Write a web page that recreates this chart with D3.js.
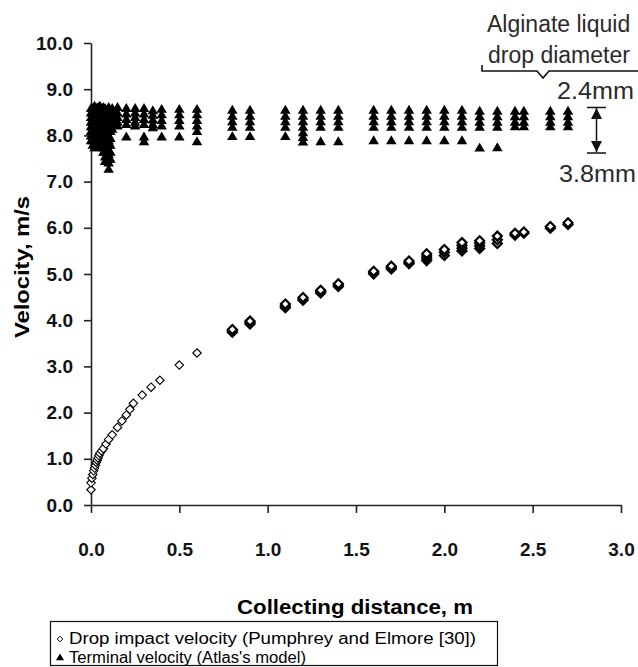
<!DOCTYPE html>
<html>
<head>
<meta charset="utf-8">
<script src="https://cdn.jsdelivr.net/npm/d3@7"></script>
<style>
  body { margin: 0; background: #fff; }
  svg { display: block; }
  .tick text { font-family: "Liberation Sans", Arial, sans-serif; font-weight: bold; font-size: 19px; fill: #111; }
</style>
</head>
<body>
<svg id="chart" width="638" height="667"></svg>
<script>
// drop impact velocity (Pumphrey and Elmore) - distance, m / velocity, m/s
var impactDist = [0, 0, 0.005, 0.01, 0.015, 0.02, 0.025, 0.03, 0.035, 0.04, 0.045, 0.05, 0.06, 0.07, 0.085,
                  0.1, 0.12, 0.15, 0.175, 0.2, 0.22, 0.24, 0.29, 0.34, 0.39, 0.5, 0.6,
                  0.8, 0.8, 0.8, 0.9, 0.9, 0.9, 1.1, 1.1, 1.1, 1.2, 1.2, 1.2, 1.3, 1.3, 1.3, 1.4, 1.4, 1.4,
                  1.6, 1.6, 1.6, 1.7, 1.7, 1.7, 1.8, 1.8, 1.8, 1.9, 1.9, 1.9, 1.9, 2.0, 2.0, 2.0,
                  2.1, 2.1, 2.1, 2.1, 2.2, 2.2, 2.2, 2.2, 2.3, 2.3, 2.3, 2.4, 2.4, 2.45, 2.45, 2.6, 2.6, 2.7, 2.7];
var impactVel  = [0.33, 0.48, 0.58, 0.66, 0.74, 0.8, 0.86, 0.92, 0.97, 1.02, 1.07, 1.12, 1.17, 1.22, 1.32,
                  1.42, 1.52, 1.68, 1.82, 1.95, 2.07, 2.2, 2.38, 2.55, 2.7, 3.03, 3.29,
                  3.74, 3.77, 3.8, 3.92, 3.95, 3.98, 4.27, 4.31, 4.35, 4.43, 4.46, 4.49, 4.59, 4.62, 4.65, 4.73, 4.76, 4.79,
                  5.0, 5.03, 5.06, 5.11, 5.14, 5.17, 5.22, 5.25, 5.28, 5.29, 5.34, 5.39, 5.44, 5.4, 5.47, 5.53,
                  5.5, 5.56, 5.62, 5.68, 5.55, 5.61, 5.67, 5.72, 5.66, 5.74, 5.82, 5.84, 5.88, 5.88, 5.91, 5.99, 6.03, 6.07, 6.11];

// terminal velocity (Atlas's model) - one column of values per distance
var termDist = [0, 0.01, 0.02, 0.03, 0.04, 0.05, 0.06, 0.07, 0.08, 0.1, 0.11, 0.12, 0.15, 0.2, 0.25, 0.3, 0.35, 0.4, 0.5, 0.6,
                0.8, 0.9, 1.1, 1.2, 1.3, 1.4, 1.6, 1.7, 1.8, 1.9, 2.0, 2.1, 2.2, 2.3, 2.4, 2.45, 2.6, 2.7];
var termVel = [
  [8.6, 8.5, 8.4, 8.3, 8.2, 8.1, 8.0, 7.9],
  [8.6, 8.5, 8.4, 8.3, 8.2, 8.1, 8.0, 7.9, 7.8],
  [8.65, 8.55, 8.45, 8.35, 8.25, 8.15, 8.05, 7.95, 7.85, 7.75],
  [8.6, 8.5, 8.4, 8.3, 8.2, 8.1, 8.0, 7.9, 7.8, 7.75],
  [8.62, 8.5, 8.4, 8.3, 8.2, 8.1, 8.0, 7.9],
  [8.65, 8.52, 8.42, 8.3, 8.2, 8.1, 8.0, 7.9],
  [8.6, 8.5, 8.4, 8.3, 8.2, 8.1, 8.0, 7.9, 7.8],
  [8.62, 8.5, 8.38, 8.28, 8.18, 8.05, 7.95, 7.85, 7.75, 7.65],
  [8.6, 8.48, 8.36, 8.25, 8.15, 8.05, 7.95, 7.85, 7.75, 7.65, 7.55, 7.45],
  [8.62, 8.5, 8.4, 8.3, 8.2, 8.1, 8.0, 7.9, 7.8, 7.7, 7.6, 7.5, 7.42, 7.28],
  [8.55, 8.45, 8.35, 8.25, 8.1, 7.95, 7.8, 7.65, 7.5],
  [8.6, 8.48, 8.36, 8.25, 8.15],
  [8.62, 8.5, 8.4, 8.3, 8.22],
  [8.6, 8.48, 8.36, 8.25, 7.98],
  [8.6, 8.5, 8.4, 8.3, 8.22],
  [8.6, 8.48, 8.36, 8.25, 7.98, 7.88],
  [8.55, 8.45, 8.35, 8.25, 8.18],
  [8.58, 8.46, 8.34, 8.22, 7.98],
  [8.58, 8.46, 8.34, 8.22, 7.98],
  [8.58, 8.46, 8.34, 8.22, 8.1, 7.88],
  [8.56, 8.43, 8.31, 8.19, 7.99],
  [8.56, 8.43, 8.31, 8.19, 7.99],
  [8.56, 8.43, 8.31, 8.19, 7.99],
  [8.56, 8.43, 8.31, 8.19, 8.07, 7.97, 7.87],
  [8.56, 8.43, 8.31, 8.19, 7.88],
  [8.56, 8.43, 8.31, 8.19, 7.88],
  [8.56, 8.43, 8.31, 8.19, 7.9],
  [8.56, 8.43, 8.31, 8.19, 7.9],
  [8.56, 8.43, 8.31, 8.19, 7.9],
  [8.56, 8.43, 8.31, 8.19, 7.9],
  [8.56, 8.43, 8.31, 8.19, 7.9],
  [8.56, 8.43, 8.31, 8.19, 7.9],
  [8.54, 8.42, 8.3, 8.19, 7.74],
  [8.54, 8.42, 8.3, 8.19, 7.75],
  [8.54, 8.42, 8.3, 8.2],
  [8.54, 8.42, 8.3, 8.2],
  [8.54, 8.42, 8.3, 8.2],
  [8.54, 8.42, 8.3, 8.2]
];

var xTicks = [0, 0.5, 1, 1.5, 2, 2.5, 3];
var yTicks = [0, 1, 2, 3, 4, 5, 6, 7, 8, 9, 10];
var legendLabels = ["Drop impact velocity  (Pumphrey  and Elmore [30])", "Terminal velocity (Atlas's model)"];

var svg = d3.select("#chart");
var font = '"Liberation Sans", Arial, sans-serif';

var x = d3.scaleLinear().domain([0, 3]).range([91, 621]);
var y = d3.scaleLinear().domain([0, 10]).range([505, 43]);

// diamond marker, square turned 45deg
var diamond = {
  draw: function(ctx, size) {
    var r = Math.sqrt(size) / 2;
    ctx.moveTo(0, -r); ctx.lineTo(r, 0); ctx.lineTo(0, r); ctx.lineTo(-r, 0); ctx.closePath();
  }
};
// flat triangle, a bit wider than tall
var triangle = {
  draw: function(ctx, size) {
    var w = Math.sqrt(size) / 2;
    ctx.moveTo(0, -w * 0.9); ctx.lineTo(w, w * 0.8); ctx.lineTo(-w, w * 0.8); ctx.closePath();
  }
};

// axes
var gy = svg.append("g")
  .attr("transform", "translate(" + x(0) + ",0)")
  .call(d3.axisLeft(y).tickValues(yTicks).tickFormat(d3.format(".1f")).tickSize(7).tickSizeOuter(0).tickPadding(11));
var gx = svg.append("g")
  .attr("transform", "translate(0," + y(0) + ")")
  .call(d3.axisBottom(x).tickValues(xTicks).tickFormat(d3.format(".1f")).tickSize(8).tickSizeOuter(0).tickPadding(30));
svg.selectAll(".domain, .tick line").attr("stroke", "#222").attr("stroke-width", 1.6);

// terminal velocity triangles
var termPts = [];
termDist.forEach(function(d, i) {
  termVel[i].forEach(function(v) { termPts.push([d, v]); });
});
svg.append("g").selectAll("path")
  .data(termPts)
  .join("path")
  .attr("transform", function(d) { return "translate(" + x(d[0]) + "," + y(d[1]) + ")"; })
  .attr("d", d3.symbol(triangle, 110))
  .attr("fill", "#000");

// impact velocity diamonds
svg.append("g").selectAll("path")
  .data(impactDist.map(function(d, i) { return [d, impactVel[i]]; }))
  .join("path")
  .attr("transform", function(d) { return "translate(" + x(d[0]) + "," + y(d[1]) + ")"; })
  .attr("d", function(d) { return d3.symbol(diamond, d[0] >= 0.8 ? 80 : 72)(); })
  .attr("fill", "#fff")
  .attr("stroke", "#000")
  .attr("stroke-width", function(d) { return d[0] >= 0.8 ? 2.2 : 1.1; });

// axis titles
svg.append("text")
  .attr("x", 355).attr("y", 614)
  .attr("text-anchor", "middle")
  .attr("font-family", font).attr("font-weight", "bold").attr("font-size", 20)
  .attr("textLength", 236).attr("lengthAdjust", "spacingAndGlyphs")
  .text("Collecting distance, m");
svg.append("text")
  .attr("transform", "translate(29,267) rotate(-90)")
  .attr("text-anchor", "middle")
  .attr("font-family", font).attr("font-weight", "bold").attr("font-size", 21)
  .attr("textLength", 142).attr("lengthAdjust", "spacingAndGlyphs")
  .text("Velocity, m/s");

// drop diameter annotation
var note = svg.append("g").attr("font-family", font).attr("fill", "#2a2a2a").attr("font-size", 23);
note.append("text").attr("x", 487).attr("y", 32).text("Alginate liquid");
note.append("text").attr("x", 488).attr("y", 63).text("drop diameter");
note.append("path")
  .attr("d", "M482,65 V71 H537 L543,78 L549,71 H640")
  .attr("fill", "none").attr("stroke", "#111").attr("stroke-width", 1.6);
note.append("text").attr("x", 557).attr("y", 99).attr("textLength", 77).attr("lengthAdjust", "spacingAndGlyphs").text("2.4mm");
note.append("text").attr("x", 559).attr("y", 182).attr("textLength", 77).attr("lengthAdjust", "spacingAndGlyphs").text("3.8mm");
note.append("path")
  .attr("d", "M587,107.5 H606 M587,153 H606 M596.5,108 V152")
  .attr("fill", "none").attr("stroke", "#111").attr("stroke-width", 1.5);
note.append("path")
  .attr("d", "M596.5,108 L591,119 H602 Z M596.5,152 L591,141 H602 Z")
  .attr("fill", "#111");

// legend
var lg = svg.append("g");
lg.append("rect")
  .attr("x", 50.5).attr("y", 621.5).attr("width", 447).attr("height", 44)
  .attr("fill", "#fff").attr("stroke", "#111").attr("stroke-width", 1.2);
lg.append("path")
  .attr("transform", "translate(60,639)")
  .attr("d", d3.symbol(diamond, 32))
  .attr("fill", "#fff").attr("stroke", "#000").attr("stroke-width", 1);
lg.append("path")
  .attr("transform", "translate(60,657)")
  .attr("d", d3.symbol(triangle, 64))
  .attr("fill", "#000");
lg.selectAll("text.lab")
  .data(legendLabels)
  .join("text")
  .attr("class", "lab")
  .attr("x", 69)
  .attr("y", function(d, i) { return 644 + i * 19; })
  .attr("font-family", '"Liberation Sans Narrow", "Liberation Sans", Arial, sans-serif')
  .attr("font-size", 16)
  .attr("textLength", function(d, i) { return i == 0 ? 407 : 237; })
  .attr("lengthAdjust", "spacingAndGlyphs")
  .text(function(d) { return d; });
</script>
</body>
</html>
